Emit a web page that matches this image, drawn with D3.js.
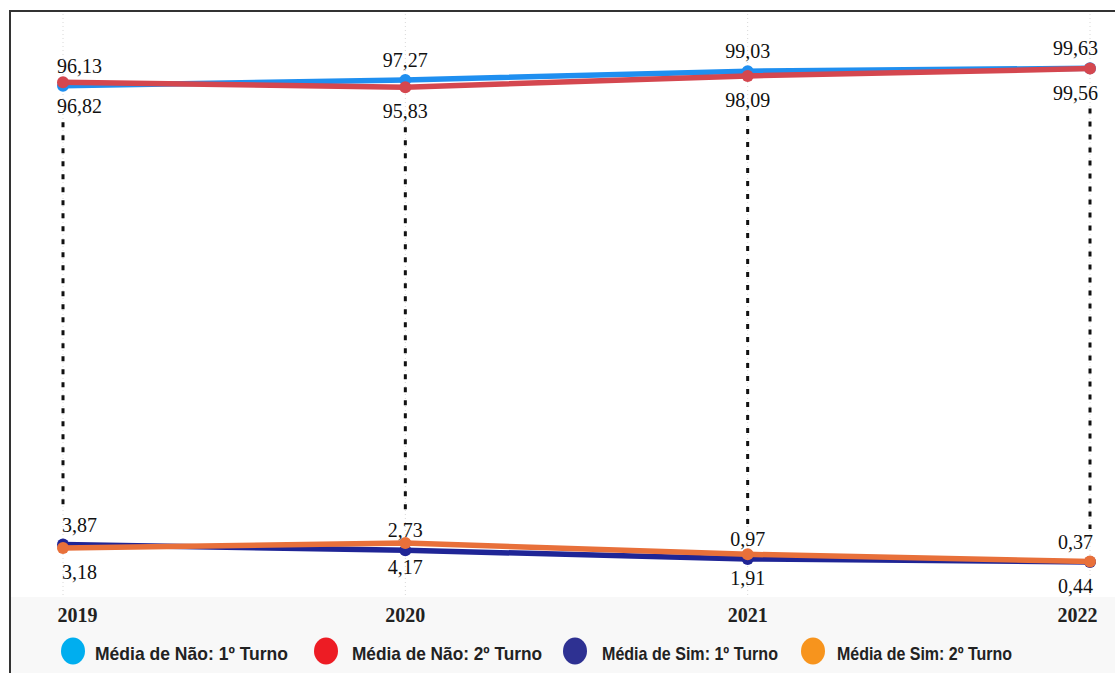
<!DOCTYPE html>
<html>
<head>
<meta charset="utf-8">
<script src="https://cdn.jsdelivr.net/npm/d3@7"></script>
<style>
  body { margin: 0; background: #fff; }
  svg { display: block; }
</style>
</head>
<body>
<script>
'use strict'

let width = 1115
let height = 673

// data
let years = ["2019", "2020", "2021", "2022"]
let naoTurno1 = [96.13, 97.27, 99.03, 99.63]
let naoTurno2 = [96.82, 95.83, 98.09, 99.56]
let simTurno1 = [3.87, 2.73, 0.97, 0.37]
let simTurno2 = [3.18, 4.17, 1.91, 0.44]
let legendNames = ["Média de Não: 1º Turno", "Média de Não: 2º Turno", "Média de Sim: 1º Turno", "Média de Sim: 2º Turno"]

let lineColors = ["#1f8ff0", "#d4474f", "#1f2596", "#e8703a"]
let legendColors = ["#00aeef", "#ed1c24", "#2e3192", "#f7941d"]

// series: values, colour index, label above (-1) or below (+1)
let series = [
  { values: naoTurno1, c: 0, side: -1 },
  { values: naoTurno2, c: 1, side: 1 },
  { values: simTurno1, c: 2, side: -1 },
  { values: simTurno2, c: 3, side: 1 }
]

let x = d3.scalePoint().domain(years).range([63, 1090])
let y = d3.scaleLinear().domain([0, 100]).range([563.8, 66.4])

let svg = d3.select("body").append("svg")
  .attr("width", width)
  .attr("height", height)

// grey band at the bottom
svg.append("rect")
  .attr("x", 11).attr("y", 597)
  .attr("width", width - 11).attr("height", height - 597)
  .attr("fill", "#f8f8f8")

// frame
svg.append("path")
  .attr("d", "M10," + height + "V11H" + width)
  .attr("fill", "none")
  .attr("stroke", "#333")
  .attr("stroke-width", 2)

// faint grid lines
svg.selectAll(".grid")
  .data(years)
  .enter()
  .append("line")
  .attr("x1", d => x(d)).attr("x2", d => x(d))
  .attr("y1", 14).attr("y2", 597)
  .attr("stroke", "#d8d8d8")
  .attr("stroke-width", 1)
  .attr("stroke-dasharray", "1,3")

// black dashed drop lines between the two groups
svg.selectAll(".drop")
  .data(years)
  .enter()
  .append("line")
  .attr("x1", d => x(d)).attr("x2", d => x(d))
  .attr("y1", (d, i) => y(naoTurno2[i]) + 40)
  .attr("y2", (d, i) => y(simTurno1[i]) - 33)
  .attr("stroke", "#111")
  .attr("stroke-width", 3)
  .attr("stroke-dasharray", "5,8")

let line = d3.line()
  .x((d, i) => x(years[i]))
  .y(d => y(d))

series.forEach(s => {
  svg.append("path")
    .datum(s.values)
    .attr("d", line)
    .attr("fill", "none")
    .attr("stroke", lineColors[s.c])
    .attr("stroke-width", 5.5)

  svg.selectAll(".dot" + s.c)
    .data(s.values)
    .enter()
    .append("circle")
    .attr("cx", (d, i) => x(years[i]))
    .attr("cy", d => y(d))
    .attr("r", 6)
    .attr("fill", lineColors[s.c])
})

// value labels, kept inside the plot
function clampX(px, w) {
  return Math.max(57 + w / 2, Math.min(1098 - w / 2, px))
}

series.forEach(s => {
  svg.selectAll(".lab" + s.c)
    .data(s.values)
    .enter()
    .append("text")
    .attr("x", (d, i) => clampX(x(years[i]), 45))
    .attr("y", d => y(d) + (s.side < 0 ? -20 : 24))
    .attr("dy", "0.35em")
    .attr("text-anchor", "middle")
    .style("font-family", "'Liberation Serif', 'Times New Roman', serif")
    .style("font-size", "20px")
    .style("fill", "#111")
    .text(d => d.toFixed(2).replace(".", ","))
})

// year labels
svg.selectAll(".year")
  .data(years)
  .enter()
  .append("text")
  .attr("x", d => clampX(x(d), 41))
  .attr("y", 622)
  .attr("text-anchor", "middle")
  .style("font-family", "'Liberation Serif', 'Times New Roman', serif")
  .style("font-size", "20px")
  .style("font-weight", "bold")
  .style("fill", "#222")
  .text(d => d)

// legend
let legendX = [73, 326, 575, 813]
let legendTextX = [95, 352, 602, 837]
let legendTextW = [193, 190, 176, 175]
let legend = svg.selectAll(".legend")
  .data(legendNames)
  .enter()
  .append("g")

legend.append("ellipse")
  .attr("cx", (d, i) => legendX[i])
  .attr("cy", 651)
  .attr("rx", 12).attr("ry", 13.5)
  .attr("fill", (d, i) => legendColors[i])

legend.append("text")
  .attr("x", (d, i) => legendTextX[i])
  .attr("y", 660)
  .attr("textLength", (d, i) => legendTextW[i])
  .attr("lengthAdjust", "spacingAndGlyphs")
  .style("font-family", "'Liberation Sans', Arial, sans-serif")
  .style("font-size", "19px")
  .style("font-weight", "bold")
  .style("fill", "#222")
  .text(d => d)
</script>
</body>
</html>
